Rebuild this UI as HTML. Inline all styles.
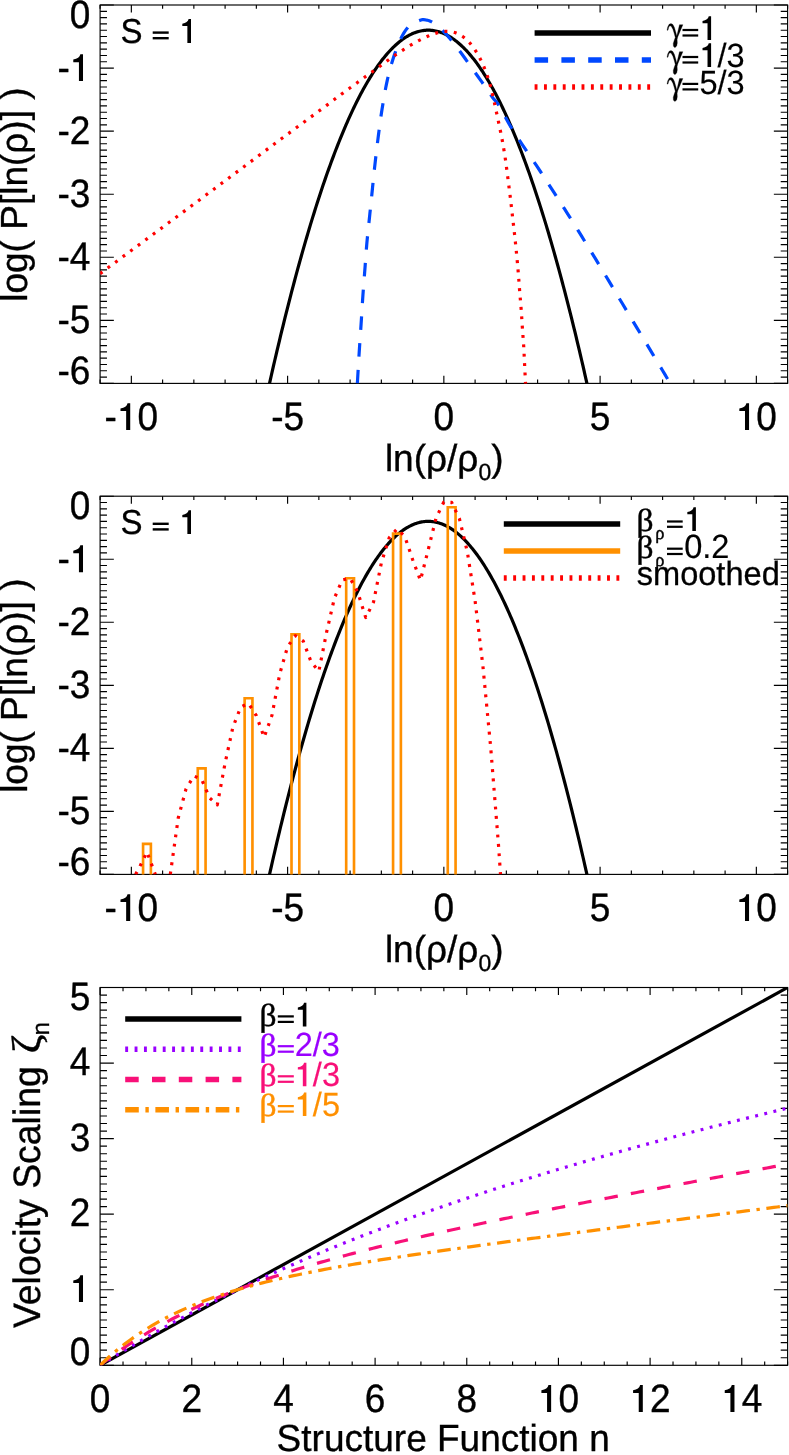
<!DOCTYPE html>
<html><head><meta charset="utf-8"><title>chart</title><style>html,body{margin:0;padding:0;background:#fff}svg{display:block}text{filter:brightness(1)}</style></head><body>
<svg width="789" height="1455" viewBox="0 0 789 1455" font-family="Liberation Sans, sans-serif" text-rendering="geometricPrecision">
<rect width="789" height="1455" fill="#fff"/>
<clipPath id="c1"><rect x="100.1" y="5" width="687.5" height="378.4"/></clipPath>
<path d="M100.1 383.4 v-3.78 M100.1 5 v3.78 M131.35 383.4 v-7.57 M131.35 5 v7.57 M162.6 383.4 v-3.78 M162.6 5 v3.78 M193.85 383.4 v-3.78 M193.85 5 v3.78 M225.1 383.4 v-3.78 M225.1 5 v3.78 M256.35 383.4 v-3.78 M256.35 5 v3.78 M287.6 383.4 v-7.57 M287.6 5 v7.57 M318.85 383.4 v-3.78 M318.85 5 v3.78 M350.1 383.4 v-3.78 M350.1 5 v3.78 M381.35 383.4 v-3.78 M381.35 5 v3.78 M412.6 383.4 v-3.78 M412.6 5 v3.78 M443.85 383.4 v-7.57 M443.85 5 v7.57 M475.1 383.4 v-3.78 M475.1 5 v3.78 M506.35 383.4 v-3.78 M506.35 5 v3.78 M537.6 383.4 v-3.78 M537.6 5 v3.78 M568.85 383.4 v-3.78 M568.85 5 v3.78 M600.1 383.4 v-7.57 M600.1 5 v7.57 M631.35 383.4 v-3.78 M631.35 5 v3.78 M662.6 383.4 v-3.78 M662.6 5 v3.78 M693.85 383.4 v-3.78 M693.85 5 v3.78 M725.1 383.4 v-3.78 M725.1 5 v3.78 M756.35 383.4 v-7.57 M756.35 5 v7.57 M787.6 383.4 v-3.78 M787.6 5 v3.78 M100.1 383.4 h13.75 M787.6 383.4 h-13.75 M100.1 377.09 h6.88 M787.6 377.09 h-6.88 M100.1 370.79 h6.88 M787.6 370.79 h-6.88 M100.1 364.48 h6.88 M787.6 364.48 h-6.88 M100.1 358.17 h6.88 M787.6 358.17 h-6.88 M100.1 351.87 h6.88 M787.6 351.87 h-6.88 M100.1 345.56 h6.88 M787.6 345.56 h-6.88 M100.1 339.25 h6.88 M787.6 339.25 h-6.88 M100.1 332.95 h6.88 M787.6 332.95 h-6.88 M100.1 326.64 h6.88 M787.6 326.64 h-6.88 M100.1 320.33 h13.75 M787.6 320.33 h-13.75 M100.1 314.03 h6.88 M787.6 314.03 h-6.88 M100.1 307.72 h6.88 M787.6 307.72 h-6.88 M100.1 301.41 h6.88 M787.6 301.41 h-6.88 M100.1 295.11 h6.88 M787.6 295.11 h-6.88 M100.1 288.8 h6.88 M787.6 288.8 h-6.88 M100.1 282.49 h6.88 M787.6 282.49 h-6.88 M100.1 276.19 h6.88 M787.6 276.19 h-6.88 M100.1 269.88 h6.88 M787.6 269.88 h-6.88 M100.1 263.57 h6.88 M787.6 263.57 h-6.88 M100.1 257.27 h13.75 M787.6 257.27 h-13.75 M100.1 250.96 h6.88 M787.6 250.96 h-6.88 M100.1 244.65 h6.88 M787.6 244.65 h-6.88 M100.1 238.35 h6.88 M787.6 238.35 h-6.88 M100.1 232.04 h6.88 M787.6 232.04 h-6.88 M100.1 225.73 h6.88 M787.6 225.73 h-6.88 M100.1 219.43 h6.88 M787.6 219.43 h-6.88 M100.1 213.12 h6.88 M787.6 213.12 h-6.88 M100.1 206.81 h6.88 M787.6 206.81 h-6.88 M100.1 200.51 h6.88 M787.6 200.51 h-6.88 M100.1 194.2 h13.75 M787.6 194.2 h-13.75 M100.1 187.89 h6.88 M787.6 187.89 h-6.88 M100.1 181.59 h6.88 M787.6 181.59 h-6.88 M100.1 175.28 h6.88 M787.6 175.28 h-6.88 M100.1 168.97 h6.88 M787.6 168.97 h-6.88 M100.1 162.67 h6.88 M787.6 162.67 h-6.88 M100.1 156.36 h6.88 M787.6 156.36 h-6.88 M100.1 150.05 h6.88 M787.6 150.05 h-6.88 M100.1 143.75 h6.88 M787.6 143.75 h-6.88 M100.1 137.44 h6.88 M787.6 137.44 h-6.88 M100.1 131.13 h13.75 M787.6 131.13 h-13.75 M100.1 124.83 h6.88 M787.6 124.83 h-6.88 M100.1 118.52 h6.88 M787.6 118.52 h-6.88 M100.1 112.21 h6.88 M787.6 112.21 h-6.88 M100.1 105.91 h6.88 M787.6 105.91 h-6.88 M100.1 99.6 h6.88 M787.6 99.6 h-6.88 M100.1 93.29 h6.88 M787.6 93.29 h-6.88 M100.1 86.99 h6.88 M787.6 86.99 h-6.88 M100.1 80.68 h6.88 M787.6 80.68 h-6.88 M100.1 74.37 h6.88 M787.6 74.37 h-6.88 M100.1 68.07 h13.75 M787.6 68.07 h-13.75 M100.1 61.76 h6.88 M787.6 61.76 h-6.88 M100.1 55.45 h6.88 M787.6 55.45 h-6.88 M100.1 49.15 h6.88 M787.6 49.15 h-6.88 M100.1 42.84 h6.88 M787.6 42.84 h-6.88 M100.1 36.53 h6.88 M787.6 36.53 h-6.88 M100.1 30.23 h6.88 M787.6 30.23 h-6.88 M100.1 23.92 h6.88 M787.6 23.92 h-6.88 M100.1 17.61 h6.88 M787.6 17.61 h-6.88 M100.1 11.31 h6.88 M787.6 11.31 h-6.88 M100.1 5 h13.75 M787.6 5 h-13.75" stroke="#000" stroke-width="1.15" fill="none"/>
<rect x="100.1" y="5" width="687.5" height="378.4" stroke="#000" stroke-width="1.15" fill="none"/>
<path d="M256.35 444.44 L257.5 438.91 L258.65 433.43 L259.8 427.98 L260.95 422.56 L262.1 417.19 L263.25 411.85 L264.4 406.55 L265.55 401.29 L266.7 396.06 L267.85 390.87 L269 385.72 L270.15 380.6 L271.3 375.52 L272.45 370.48 L273.59 365.48 L274.74 360.51 L275.89 355.58 L277.04 350.68 L278.19 345.83 L279.34 341.01 L280.49 336.23 L281.64 331.48 L282.79 326.77 L283.94 322.1 L285.09 317.47 L286.24 312.87 L287.39 308.31 L288.54 303.79 L289.69 299.3 L290.84 294.86 L291.99 290.45 L293.14 286.07 L294.29 281.73 L295.44 277.43 L296.59 273.17 L297.74 268.94 L298.89 264.76 L300.04 260.6 L301.19 256.49 L302.34 252.41 L303.49 248.37 L304.64 244.37 L305.79 240.4 L306.94 236.47 L308.08 232.58 L309.23 228.72 L310.38 224.9 L311.53 221.12 L312.68 217.38 L313.83 213.67 L314.98 210 L316.13 206.37 L317.28 202.77 L318.43 199.21 L319.58 195.69 L320.73 192.21 L321.88 188.76 L323.03 185.35 L324.18 181.98 L325.33 178.64 L326.48 175.34 L327.63 172.08 L328.78 168.85 L329.93 165.67 L331.08 162.52 L332.23 159.4 L333.38 156.32 L334.53 153.28 L335.68 150.28 L336.83 147.32 L337.98 144.39 L339.13 141.5 L340.28 138.64 L341.43 135.82 L342.57 133.04 L343.72 130.3 L344.87 127.59 L346.02 124.93 L347.17 122.29 L348.32 119.7 L349.47 117.14 L350.62 114.62 L351.77 112.14 L352.92 109.69 L354.07 107.28 L355.22 104.91 L356.37 102.57 L357.52 100.27 L358.67 98.01 L359.82 95.79 L360.97 93.6 L362.12 91.45 L363.27 89.34 L364.42 87.26 L365.57 85.22 L366.72 83.22 L367.87 81.26 L369.02 79.33 L370.17 77.44 L371.32 75.59 L372.47 73.77 L373.62 71.99 L374.77 70.25 L375.92 68.54 L377.06 66.87 L378.21 65.24 L379.36 63.65 L380.51 62.09 L381.66 60.57 L382.81 59.09 L383.96 57.64 L385.11 56.23 L386.26 54.86 L387.41 53.53 L388.56 52.23 L389.71 50.97 L390.86 49.75 L392.01 48.56 L393.16 47.41 L394.31 46.3 L395.46 45.22 L396.61 44.19 L397.76 43.19 L398.91 42.22 L400.06 41.3 L401.21 40.41 L402.36 39.55 L403.51 38.74 L404.66 37.96 L405.81 37.22 L406.96 36.51 L408.11 35.85 L409.26 35.22 L410.41 34.62 L411.55 34.07 L412.7 33.55 L413.85 33.07 L415 32.62 L416.15 32.21 L417.3 31.84 L418.45 31.51 L419.6 31.21 L420.75 30.95 L421.9 30.73 L423.05 30.54 L424.2 30.4 L425.35 30.29 L426.5 30.21 L427.65 30.17 L428.8 30.17 L429.95 30.21 L431.1 30.29 L432.25 30.4 L433.4 30.54 L434.55 30.73 L435.7 30.95 L436.85 31.21 L438 31.51 L439.15 31.84 L440.3 32.21 L441.45 32.62 L442.6 33.07 L443.75 33.55 L444.9 34.07 L446.04 34.62 L447.19 35.22 L448.34 35.85 L449.49 36.51 L450.64 37.22 L451.79 37.96 L452.94 38.74 L454.09 39.55 L455.24 40.41 L456.39 41.3 L457.54 42.22 L458.69 43.19 L459.84 44.19 L460.99 45.22 L462.14 46.3 L463.29 47.41 L464.44 48.56 L465.59 49.75 L466.74 50.97 L467.89 52.23 L469.04 53.53 L470.19 54.86 L471.34 56.23 L472.49 57.64 L473.64 59.09 L474.79 60.57 L475.94 62.09 L477.09 63.65 L478.24 65.24 L479.39 66.87 L480.53 68.54 L481.68 70.25 L482.83 71.99 L483.98 73.77 L485.13 75.59 L486.28 77.44 L487.43 79.33 L488.58 81.26 L489.73 83.22 L490.88 85.22 L492.03 87.26 L493.18 89.34 L494.33 91.45 L495.48 93.6 L496.63 95.79 L497.78 98.01 L498.93 100.27 L500.08 102.57 L501.23 104.91 L502.38 107.28 L503.53 109.69 L504.68 112.14 L505.83 114.62 L506.98 117.14 L508.13 119.7 L509.28 122.29 L510.43 124.93 L511.58 127.59 L512.73 130.3 L513.88 133.04 L515.02 135.82 L516.17 138.64 L517.32 141.5 L518.47 144.39 L519.62 147.32 L520.77 150.28 L521.92 153.28 L523.07 156.32 L524.22 159.4 L525.37 162.52 L526.52 165.67 L527.67 168.85 L528.82 172.08 L529.97 175.34 L531.12 178.64 L532.27 181.98 L533.42 185.35 L534.57 188.76 L535.72 192.21 L536.87 195.69 L538.02 199.21 L539.17 202.77 L540.32 206.37 L541.47 210 L542.62 213.67 L543.77 217.38 L544.92 221.12 L546.07 224.9 L547.22 228.72 L548.37 232.58 L549.51 236.47 L550.66 240.4 L551.81 244.37 L552.96 248.37 L554.11 252.41 L555.26 256.49 L556.41 260.6 L557.56 264.76 L558.71 268.94 L559.86 273.17 L561.01 277.43 L562.16 281.73 L563.31 286.07 L564.46 290.45 L565.61 294.86 L566.76 299.3 L567.91 303.79 L569.06 308.31 L570.21 312.87 L571.36 317.47 L572.51 322.1 L573.66 326.77 L574.81 331.48 L575.96 336.23 L577.11 341.01 L578.26 345.83 L579.41 350.68 L580.56 355.58 L581.71 360.51 L582.86 365.48 L584 370.48 L585.15 375.52 L586.3 380.6 L587.45 385.72 L588.6 390.87 L589.75 396.06 L590.9 401.29 L592.05 406.55 L593.2 411.85 L594.35 417.19 L595.5 422.56 L596.65 427.98 L597.8 433.43 L598.95 438.91 L600.1 444.44" stroke="#000" stroke-width="3.2" fill="none" stroke-linejoin="round"  clip-path="url(#c1)"/>
<path d="M357.36 383.4 L357.5 380.98 L357.69 377.75 L357.91 373.9 L358.16 369.62 L358.42 365.13 L358.69 360.61 L358.95 356.27 L359.2 352.3 L359.44 348.62 L359.67 345.01 L359.91 341.45 L360.15 337.93 L360.39 334.43 L360.63 330.94 L360.87 327.43 L361.1 323.9 L361.33 320.34 L361.55 316.75 L361.77 313.16 L361.99 309.57 L362.21 306 L362.44 302.46 L362.67 298.95 L362.9 295.5 L363.14 292.1 L363.39 288.76 L363.64 285.45 L363.89 282.18 L364.14 278.91 L364.4 275.65 L364.65 272.39 L364.9 269.1 L365.15 265.8 L365.38 262.5 L365.62 259.2 L365.86 255.89 L366.1 252.59 L366.35 249.29 L366.62 246 L366.9 242.7 L367.21 239.38 L367.54 236.03 L367.88 232.66 L368.23 229.3 L368.59 225.97 L368.94 222.7 L369.28 219.5 L369.6 216.4 L369.9 213.44 L370.2 210.6 L370.48 207.85 L370.76 205.16 L371.03 202.46 L371.31 199.73 L371.6 196.93 L371.9 194 L372.2 190.99 L372.51 187.94 L372.81 184.85 L373.12 181.71 L373.44 178.5 L373.77 175.22 L374.13 171.86 L374.5 168.4 L374.9 164.81 L375.32 161.07 L375.76 157.23 L376.22 153.32 L376.68 149.4 L377.16 145.49 L377.63 141.65 L378.1 137.9 L378.56 134.25 L379.03 130.65 L379.49 127.1 L379.96 123.57 L380.44 120.06 L380.93 116.55 L381.45 113.04 L382 109.5 L382.57 105.91 L383.17 102.26 L383.79 98.58 L384.42 94.92 L385.07 91.3 L385.73 87.77 L386.41 84.36 L387.1 81.1 L387.79 78.01 L388.49 75.05 L389.2 72.2 L389.93 69.44 L390.68 66.75 L391.45 64.09 L392.26 61.45 L393.1 58.8 L393.99 56.11 L394.92 53.39 L395.88 50.68 L396.87 48.01 L397.87 45.42 L398.89 42.95 L399.9 40.63 L400.9 38.5 L401.88 36.55 L402.83 34.76 L403.78 33.1 L404.74 31.56 L405.73 30.14 L406.76 28.81 L407.84 27.57 L409 26.4 L410.28 25.31 L411.7 24.32 L413.21 23.42 L414.74 22.62 L416.25 21.91 L417.68 21.28 L418.98 20.75 L420.1 20.3 L421.01 19.96 L421.75 19.73 L422.36 19.61 L422.9 19.57 L423.4 19.59 L423.93 19.67 L424.51 19.78 L425.2 19.9 L425.96 20.02 L426.74 20.15 L427.54 20.3 L428.38 20.51 L429.26 20.79 L430.2 21.16 L431.21 21.66 L432.3 22.3 L433.52 23.12 L434.86 24.1 L436.3 25.22 L437.78 26.43 L439.27 27.69 L440.74 28.96 L442.12 30.21 L443.4 31.4 L444.55 32.52 L445.61 33.6 L446.6 34.67 L447.56 35.74 L448.51 36.85 L449.48 38.02 L450.5 39.26 L451.6 40.6 L452.77 42.05 L453.99 43.6 L455.25 45.21 L456.53 46.89 L457.83 48.6 L459.13 50.34 L460.42 52.07 L461.7 53.8 L462.96 55.53 L464.22 57.28 L465.48 59.05 L466.74 60.84 L468.01 62.63 L469.27 64.43 L470.53 66.22 L471.8 68 L473.07 69.77 L474.33 71.52 L475.6 73.28 L476.87 75.03 L478.14 76.79 L479.42 78.57 L480.71 80.37 L482 82.2 L483.33 84.11 L484.72 86.11 L486.12 88.16 L487.52 90.21 L488.9 92.22 L490.22 94.13 L491.46 95.91 L492.6 97.5 L493.57 98.77 L494.36 99.71 L495.05 100.45 L495.7 101.12 L496.37 101.87 L497.14 102.83 L498.06 104.13 L499.2 105.9 L500.49 108.08 L501.82 110.5 L503.25 113.18 L504.8 116.11 L506.51 119.29 L508.42 122.73 L510.57 126.43 L513 130.4 L515.77 134.73 L518.89 139.47 L522.28 144.53 L525.85 149.82 L529.53 155.25 L533.23 160.73 L536.88 166.18 L540.4 171.5 L543.83 176.74 L547.25 182.01 L550.68 187.3 L554.11 192.61 L557.53 197.95 L560.96 203.31 L564.38 208.69 L567.8 214.1 L571.22 219.53 L574.63 224.98 L578.04 230.46 L581.45 235.96 L584.86 241.49 L588.27 247.03 L591.68 252.61 L595.1 258.2 L598.52 263.83 L601.94 269.49 L605.37 275.19 L608.79 280.91 L612.22 286.63 L615.65 292.36 L619.07 298.09 L622.5 303.8 L625.99 309.6 L629.57 315.56 L633.18 321.57 L636.78 327.55 L640.3 333.41 L643.7 339.07 L646.92 344.43 L649.9 349.4 L652.71 354.09 L655.42 358.61 L658.01 362.93 L660.45 367 L662.7 370.77 L664.75 374.19 L666.56 377.21 L668.1 379.8 L669.32 381.86 L670.23 383.4 L670.88 384.52 L671.34 385.3 L671.65 385.85 L671.87 386.25 L672.07 386.6 L672.3 387" stroke="#0048ff" stroke-width="3.2" fill="none" stroke-linejoin="round" stroke-dasharray="13.5 13.3" stroke-dashoffset="0" clip-path="url(#c1)"/>
<path d="M100.1 273.6 L191.3 206 L281.3 138.8 L326.6 105.4 L341.5 94.1 L342.09 93.67 L342.89 93.09 L343.83 92.41 L344.88 91.64 L345.98 90.84 L347.1 90.02 L348.19 89.23 L349.2 88.5 L350.16 87.81 L351.11 87.12 L352.06 86.43 L353.01 85.74 L353.96 85.06 L354.91 84.37 L355.86 83.69 L356.8 83 L357.74 82.31 L358.68 81.62 L359.61 80.94 L360.54 80.25 L361.48 79.56 L362.41 78.88 L363.35 78.19 L364.3 77.5 L365.25 76.81 L366.21 76.12 L367.18 75.44 L368.14 74.75 L369.11 74.06 L370.08 73.38 L371.04 72.69 L372 72 L372.96 71.31 L373.91 70.63 L374.86 69.94 L375.81 69.26 L376.76 68.57 L377.71 67.88 L378.66 67.19 L379.6 66.5 L380.54 65.8 L381.48 65.1 L382.41 64.4 L383.34 63.7 L384.28 63 L385.21 62.3 L386.15 61.6 L387.1 60.9 L388.05 60.2 L389.01 59.51 L389.97 58.81 L390.94 58.12 L391.9 57.43 L392.87 56.74 L393.84 56.07 L394.8 55.4 L395.76 54.74 L396.72 54.1 L397.67 53.46 L398.62 52.83 L399.58 52.19 L400.55 51.57 L401.52 50.93 L402.5 50.3 L403.49 49.66 L404.5 49.01 L405.51 48.37 L406.52 47.72 L407.54 47.08 L408.57 46.44 L409.58 45.81 L410.6 45.2 L411.61 44.6 L412.62 44 L413.62 43.42 L414.63 42.84 L415.63 42.27 L416.65 41.7 L417.67 41.15 L418.7 40.6 L419.74 40.06 L420.78 39.52 L421.83 39 L422.89 38.48 L423.95 37.96 L425.02 37.46 L426.11 36.98 L427.2 36.5 L428.31 36.03 L429.43 35.56 L430.56 35.1 L431.71 34.65 L432.85 34.22 L434 33.81 L435.15 33.44 L436.3 33.1 L437.45 32.79 L438.6 32.49 L439.75 32.21 L440.9 31.97 L442.05 31.76 L443.2 31.59 L444.35 31.47 L445.5 31.4 L446.65 31.38 L447.81 31.41 L448.96 31.48 L450.12 31.59 L451.27 31.75 L452.4 31.96 L453.51 32.2 L454.6 32.5 L455.67 32.84 L456.72 33.24 L457.75 33.68 L458.78 34.16 L459.78 34.69 L460.77 35.26 L461.74 35.86 L462.7 36.5 L463.64 37.18 L464.58 37.92 L465.5 38.7 L466.4 39.52 L467.28 40.36 L468.15 41.23 L468.99 42.11 L469.8 43 L470.58 43.9 L471.34 44.82 L472.08 45.76 L472.79 46.73 L473.48 47.7 L474.16 48.69 L474.84 49.69 L475.5 50.7 L476.16 51.72 L476.8 52.76 L477.44 53.82 L478.06 54.88 L478.66 55.96 L479.26 57.04 L479.84 58.12 L480.4 59.2 L480.95 60.28 L481.48 61.37 L482 62.46 L482.5 63.56 L482.99 64.66 L483.47 65.77 L483.94 66.88 L484.4 68 L484.85 69.12 L485.29 70.25 L485.71 71.39 L486.12 72.53 L486.53 73.67 L486.93 74.82 L487.32 75.96 L487.7 77.1 L488.08 78.24 L488.45 79.38 L488.81 80.51 L489.17 81.65 L489.52 82.79 L489.85 83.92 L490.18 85.06 L490.5 86.2 L490.8 87.34 L491.09 88.47 L491.37 89.6 L491.64 90.74 L491.91 91.87 L492.17 93.01 L492.43 94.15 L492.7 95.3 L492.95 96.39 L493.19 97.4 L493.42 98.38 L493.64 99.38 L493.89 100.45 L494.15 101.64 L494.45 103.01 L494.8 104.6 L495.2 106.45 L495.65 108.52 L496.14 110.77 L496.65 113.14 L497.17 115.58 L497.7 118.03 L498.21 120.46 L498.7 122.8 L499.18 125.08 L499.66 127.37 L500.13 129.66 L500.61 131.95 L501.07 134.24 L501.53 136.53 L501.97 138.82 L502.4 141.1 L502.81 143.38 L503.21 145.65 L503.6 147.93 L503.98 150.2 L504.35 152.47 L504.71 154.75 L505.06 157.02 L505.4 159.3 L505.73 161.57 L506.04 163.84 L506.34 166.09 L506.63 168.36 L506.92 170.63 L507.21 172.92 L507.5 175.24 L507.8 177.6 L508.11 180.01 L508.43 182.46 L508.75 184.95 L509.07 187.45 L509.39 189.95 L509.7 192.44 L510.01 194.89 L510.3 197.3 L510.58 199.66 L510.85 201.98 L511.12 204.27 L511.38 206.54 L511.63 208.81 L511.88 211.06 L512.14 213.33 L512.4 215.6 L512.66 217.88 L512.93 220.15 L513.2 222.43 L513.46 224.7 L513.73 226.97 L513.99 229.25 L514.25 231.52 L514.5 233.8 L514.75 236.07 L514.99 238.33 L515.23 240.59 L515.47 242.85 L515.7 245.12 L515.94 247.42 L516.17 249.74 L516.4 252.1 L516.63 254.5 L516.86 256.95 L517.1 259.42 L517.33 261.91 L517.55 264.42 L517.77 266.92 L517.99 269.42 L518.2 271.9 L518.4 274.38 L518.6 276.86 L518.78 279.36 L518.97 281.84 L519.15 284.32 L519.33 286.78 L519.51 289.21 L519.7 291.6 L519.89 293.96 L520.08 296.28 L520.28 298.57 L520.47 300.84 L520.66 303.11 L520.85 305.36 L521.03 307.63 L521.2 309.9 L521.36 312.18 L521.52 314.45 L521.67 316.73 L521.81 319 L521.96 321.27 L522.1 323.55 L522.25 325.82 L522.4 328.1 L522.56 330.38 L522.73 332.67 L522.9 334.96 L523.07 337.25 L523.24 339.54 L523.4 341.83 L523.56 344.12 L523.7 346.4 L523.83 348.68 L523.95 350.95 L524.07 353.23 L524.17 355.5 L524.28 357.77 L524.38 360.05 L524.49 362.32 L524.6 364.6 L524.72 366.96 L524.84 369.43 L524.96 371.95 L525.09 374.44 L525.21 376.85 L525.32 379.11 L525.42 381.15 L525.5 382.9 L525.57 384.37 L525.62 385.63 L525.67 386.69 L525.71 387.59 L525.74 388.35 L525.76 388.99 L525.78 389.53 L525.8 390" stroke="#ff0000" stroke-width="3.2" fill="none" stroke-linejoin="round" stroke-dasharray="2.9 6.485" stroke-dashoffset="0" clip-path="url(#c1)"/>
<text transform="translate(104.62 430) scale(1 1.07)" font-size="37" fill="#000" stroke="#000" stroke-width="0.35" style="white-space:pre">-</text>
<path transform="translate(116.94 430)" d="M13.28 0 L13.28 -26.86 L10.62 -26.86 Q9.69 -22.57 3.55 -21.53 L3.55 -18.94 L9.21 -18.94 L9.21 0Z" fill="#000"/>
<text transform="translate(137.51 430) scale(1 1.07)" font-size="37" fill="#000" stroke="#000" stroke-width="0.35" style="white-space:pre">0</text>
<text transform="translate(271.15 430) scale(1 1.07)" font-size="37" fill="#000" stroke="#000" stroke-width="0.35" style="white-space:pre">-5</text>
<text transform="translate(433.56 430) scale(1 1.07)" font-size="37" fill="#000" stroke="#000" stroke-width="0.35" style="white-space:pre">0</text>
<text transform="translate(589.81 430) scale(1 1.07)" font-size="37" fill="#000" stroke="#000" stroke-width="0.35" style="white-space:pre">5</text>
<path transform="translate(735.78 430)" d="M13.28 0 L13.28 -26.86 L10.62 -26.86 Q9.69 -22.57 3.55 -21.53 L3.55 -18.94 L9.21 -18.94 L9.21 0Z" fill="#000"/>
<text transform="translate(756.35 430) scale(1 1.07)" font-size="37" fill="#000" stroke="#000" stroke-width="0.35" style="white-space:pre">0</text>
<text transform="translate(57.41 384.1) scale(1 1.07)" font-size="37" fill="#000" stroke="#000" stroke-width="0.35" style="white-space:pre">-6</text>
<text transform="translate(57.41 333.33) scale(1 1.07)" font-size="37" fill="#000" stroke="#000" stroke-width="0.35" style="white-space:pre">-5</text>
<text transform="translate(57.41 270.27) scale(1 1.07)" font-size="37" fill="#000" stroke="#000" stroke-width="0.35" style="white-space:pre">-4</text>
<text transform="translate(57.41 207.2) scale(1 1.07)" font-size="37" fill="#000" stroke="#000" stroke-width="0.35" style="white-space:pre">-3</text>
<text transform="translate(57.41 144.13) scale(1 1.07)" font-size="37" fill="#000" stroke="#000" stroke-width="0.35" style="white-space:pre">-2</text>
<text transform="translate(57.41 81.07) scale(1 1.07)" font-size="37" fill="#000" stroke="#000" stroke-width="0.35" style="white-space:pre">-</text>
<path transform="translate(69.73 81.07)" d="M13.28 0 L13.28 -26.86 L10.62 -26.86 Q9.69 -22.57 3.55 -21.53 L3.55 -18.94 L9.21 -18.94 L9.21 0Z" fill="#000"/>
<text transform="translate(69.73 27.5) scale(1 1.07)" font-size="37" fill="#000" stroke="#000" stroke-width="0.35" style="white-space:pre">0</text>
<text transform="translate(444.2 471) scale(1 1.02)" font-size="37" text-anchor="middle" fill="#000" stroke="#000" stroke-width="0.35" >ln(ρ/ρ<tspan font-size="23" dy="8.5">0</tspan><tspan dy="-8.5">)</tspan></text>
<text transform="translate(27.3 194.6) rotate(-90) scale(1 1.02)" font-size="37" text-anchor="middle" stroke="#000" stroke-width="0.35">log( P[ln(ρ)] )</text>
<text transform="translate(120.4 43) scale(1 1.05)" font-size="33" stroke="#000" stroke-width="0.3">S</text>
<rect x="152.7" y="31.4" width="16" height="2.4"/>
<rect x="152.7" y="37" width="16" height="2.4"/>
<path transform="translate(179.15 42.9)" d="M11.85 0 L11.85 -23.96 L9.47 -23.96 Q8.65 -20.13 3.17 -19.21 L3.17 -16.9 L8.22 -16.9 L8.22 0Z" fill="#000"/>
<path d="M534.6 33.05 H651" stroke="#000" stroke-width="5.5" />
<polygon transform="translate(667 40)" points="0.07,-9.81 0.68,-13.01 2.10,-15.69 4.02,-16.40 5.90,-15.39 7.42,-12.50 8.79,-7.68 9.80,-3.88 12.49,-15.29 15.89,-15.29 10.72,-3.12 10.11,-0.59 10.31,2.96 9.70,6.00 7.93,7.63 6.41,6.26 6.25,3.47 7.42,-0.33 8.28,-2.61 7.17,-6.67 5.90,-10.73 4.38,-13.51 3.11,-14.27 1.84,-13.26 0.98,-9.81" fill="#000" stroke="#000" stroke-width="0.3" stroke-linejoin="round"/>
<rect x="682.5" y="28.9" width="15.7" height="2.2" fill="#000"/>
<rect x="682.5" y="34.4" width="15.7" height="2.2" fill="#000"/>
<path transform="translate(699.4 40)" d="M11.7 0 L11.7 -23.67 L9.36 -23.67 Q8.54 -19.89 3.13 -18.97 L3.13 -16.69 L8.12 -16.69 L8.12 0Z" fill="#000"/>
<path d="M534.6 60 H651" stroke="#0048ff" stroke-width="5.5" stroke-dasharray="13.5 13.3"/>
<polygon transform="translate(667 67)" points="0.07,-9.81 0.68,-13.01 2.10,-15.69 4.02,-16.40 5.90,-15.39 7.42,-12.50 8.79,-7.68 9.80,-3.88 12.49,-15.29 15.89,-15.29 10.72,-3.12 10.11,-0.59 10.31,2.96 9.70,6.00 7.93,7.63 6.41,6.26 6.25,3.47 7.42,-0.33 8.28,-2.61 7.17,-6.67 5.90,-10.73 4.38,-13.51 3.11,-14.27 1.84,-13.26 0.98,-9.81" fill="#000" stroke="#000" stroke-width="0.3" stroke-linejoin="round"/>
<rect x="682.5" y="55.9" width="15.7" height="2.2" fill="#000"/>
<rect x="682.5" y="61.4" width="15.7" height="2.2" fill="#000"/>
<path transform="translate(699.4 67)" d="M11.7 0 L11.7 -23.67 L9.36 -23.67 Q8.54 -19.89 3.13 -18.97 L3.13 -16.69 L8.12 -16.69 L8.12 0Z" fill="#000"/>
<text transform="translate(717.53 67) scale(1 1.03)" font-size="32.6" fill="#000" stroke="#000" stroke-width="0.15" style="white-space:pre">/3</text>
<path d="M534.6 87 H651" stroke="#ff0000" stroke-width="5.5" stroke-dasharray="2.9 6.485"/>
<polygon transform="translate(667 93.9)" points="0.07,-9.81 0.68,-13.01 2.10,-15.69 4.02,-16.40 5.90,-15.39 7.42,-12.50 8.79,-7.68 9.80,-3.88 12.49,-15.29 15.89,-15.29 10.72,-3.12 10.11,-0.59 10.31,2.96 9.70,6.00 7.93,7.63 6.41,6.26 6.25,3.47 7.42,-0.33 8.28,-2.61 7.17,-6.67 5.90,-10.73 4.38,-13.51 3.11,-14.27 1.84,-13.26 0.98,-9.81" fill="#000" stroke="#000" stroke-width="0.3" stroke-linejoin="round"/>
<rect x="682.5" y="82.8" width="15.7" height="2.2" fill="#000"/>
<rect x="682.5" y="88.3" width="15.7" height="2.2" fill="#000"/>
<text transform="translate(699.4 93.9) scale(1 1.03)" font-size="32.6" fill="#000" stroke="#000" stroke-width="0.15" style="white-space:pre">5/3</text>
<clipPath id="c2"><rect x="100.1" y="496.2" width="687.5" height="378.2"/></clipPath>
<path d="M100.1 874.4 v-3.78 M100.1 496.2 v3.78 M131.35 874.4 v-7.56 M131.35 496.2 v7.56 M162.6 874.4 v-3.78 M162.6 496.2 v3.78 M193.85 874.4 v-3.78 M193.85 496.2 v3.78 M225.1 874.4 v-3.78 M225.1 496.2 v3.78 M256.35 874.4 v-3.78 M256.35 496.2 v3.78 M287.6 874.4 v-7.56 M287.6 496.2 v7.56 M318.85 874.4 v-3.78 M318.85 496.2 v3.78 M350.1 874.4 v-3.78 M350.1 496.2 v3.78 M381.35 874.4 v-3.78 M381.35 496.2 v3.78 M412.6 874.4 v-3.78 M412.6 496.2 v3.78 M443.85 874.4 v-7.56 M443.85 496.2 v7.56 M475.1 874.4 v-3.78 M475.1 496.2 v3.78 M506.35 874.4 v-3.78 M506.35 496.2 v3.78 M537.6 874.4 v-3.78 M537.6 496.2 v3.78 M568.85 874.4 v-3.78 M568.85 496.2 v3.78 M600.1 874.4 v-7.56 M600.1 496.2 v7.56 M631.35 874.4 v-3.78 M631.35 496.2 v3.78 M662.6 874.4 v-3.78 M662.6 496.2 v3.78 M693.85 874.4 v-3.78 M693.85 496.2 v3.78 M725.1 874.4 v-3.78 M725.1 496.2 v3.78 M756.35 874.4 v-7.56 M756.35 496.2 v7.56 M787.6 874.4 v-3.78 M787.6 496.2 v3.78 M100.1 874.4 h13.75 M787.6 874.4 h-13.75 M100.1 868.1 h6.88 M787.6 868.1 h-6.88 M100.1 861.79 h6.88 M787.6 861.79 h-6.88 M100.1 855.49 h6.88 M787.6 855.49 h-6.88 M100.1 849.19 h6.88 M787.6 849.19 h-6.88 M100.1 842.88 h6.88 M787.6 842.88 h-6.88 M100.1 836.58 h6.88 M787.6 836.58 h-6.88 M100.1 830.28 h6.88 M787.6 830.28 h-6.88 M100.1 823.97 h6.88 M787.6 823.97 h-6.88 M100.1 817.67 h6.88 M787.6 817.67 h-6.88 M100.1 811.37 h13.75 M787.6 811.37 h-13.75 M100.1 805.06 h6.88 M787.6 805.06 h-6.88 M100.1 798.76 h6.88 M787.6 798.76 h-6.88 M100.1 792.46 h6.88 M787.6 792.46 h-6.88 M100.1 786.15 h6.88 M787.6 786.15 h-6.88 M100.1 779.85 h6.88 M787.6 779.85 h-6.88 M100.1 773.55 h6.88 M787.6 773.55 h-6.88 M100.1 767.24 h6.88 M787.6 767.24 h-6.88 M100.1 760.94 h6.88 M787.6 760.94 h-6.88 M100.1 754.64 h6.88 M787.6 754.64 h-6.88 M100.1 748.33 h13.75 M787.6 748.33 h-13.75 M100.1 742.03 h6.88 M787.6 742.03 h-6.88 M100.1 735.73 h6.88 M787.6 735.73 h-6.88 M100.1 729.42 h6.88 M787.6 729.42 h-6.88 M100.1 723.12 h6.88 M787.6 723.12 h-6.88 M100.1 716.82 h6.88 M787.6 716.82 h-6.88 M100.1 710.51 h6.88 M787.6 710.51 h-6.88 M100.1 704.21 h6.88 M787.6 704.21 h-6.88 M100.1 697.91 h6.88 M787.6 697.91 h-6.88 M100.1 691.6 h6.88 M787.6 691.6 h-6.88 M100.1 685.3 h13.75 M787.6 685.3 h-13.75 M100.1 679 h6.88 M787.6 679 h-6.88 M100.1 672.69 h6.88 M787.6 672.69 h-6.88 M100.1 666.39 h6.88 M787.6 666.39 h-6.88 M100.1 660.09 h6.88 M787.6 660.09 h-6.88 M100.1 653.78 h6.88 M787.6 653.78 h-6.88 M100.1 647.48 h6.88 M787.6 647.48 h-6.88 M100.1 641.18 h6.88 M787.6 641.18 h-6.88 M100.1 634.87 h6.88 M787.6 634.87 h-6.88 M100.1 628.57 h6.88 M787.6 628.57 h-6.88 M100.1 622.27 h13.75 M787.6 622.27 h-13.75 M100.1 615.96 h6.88 M787.6 615.96 h-6.88 M100.1 609.66 h6.88 M787.6 609.66 h-6.88 M100.1 603.36 h6.88 M787.6 603.36 h-6.88 M100.1 597.05 h6.88 M787.6 597.05 h-6.88 M100.1 590.75 h6.88 M787.6 590.75 h-6.88 M100.1 584.45 h6.88 M787.6 584.45 h-6.88 M100.1 578.14 h6.88 M787.6 578.14 h-6.88 M100.1 571.84 h6.88 M787.6 571.84 h-6.88 M100.1 565.54 h6.88 M787.6 565.54 h-6.88 M100.1 559.23 h13.75 M787.6 559.23 h-13.75 M100.1 552.93 h6.88 M787.6 552.93 h-6.88 M100.1 546.63 h6.88 M787.6 546.63 h-6.88 M100.1 540.32 h6.88 M787.6 540.32 h-6.88 M100.1 534.02 h6.88 M787.6 534.02 h-6.88 M100.1 527.72 h6.88 M787.6 527.72 h-6.88 M100.1 521.41 h6.88 M787.6 521.41 h-6.88 M100.1 515.11 h6.88 M787.6 515.11 h-6.88 M100.1 508.81 h6.88 M787.6 508.81 h-6.88 M100.1 502.5 h6.88 M787.6 502.5 h-6.88 M100.1 496.2 h13.75 M787.6 496.2 h-13.75" stroke="#000" stroke-width="1.15" fill="none"/>
<rect x="100.1" y="496.2" width="687.5" height="378.2" stroke="#000" stroke-width="1.15" fill="none"/>
<path d="M256.35 935.4 L257.5 929.88 L258.65 924.4 L259.8 918.95 L260.95 913.54 L262.1 908.17 L263.25 902.84 L264.4 897.54 L265.55 892.28 L266.7 887.05 L267.85 881.86 L269 876.71 L270.15 871.6 L271.3 866.53 L272.45 861.49 L273.59 856.49 L274.74 851.52 L275.89 846.59 L277.04 841.7 L278.19 836.85 L279.34 832.03 L280.49 827.25 L281.64 822.51 L282.79 817.8 L283.94 813.14 L285.09 808.5 L286.24 803.91 L287.39 799.35 L288.54 794.83 L289.69 790.35 L290.84 785.9 L291.99 781.49 L293.14 777.12 L294.29 772.79 L295.44 768.49 L296.59 764.23 L297.74 760 L298.89 755.82 L300.04 751.67 L301.19 747.56 L302.34 743.48 L303.49 739.44 L304.64 735.44 L305.79 731.48 L306.94 727.55 L308.08 723.66 L309.23 719.8 L310.38 715.99 L311.53 712.21 L312.68 708.47 L313.83 704.76 L314.98 701.09 L316.13 697.46 L317.28 693.87 L318.43 690.31 L319.58 686.79 L320.73 683.31 L321.88 679.86 L323.03 676.46 L324.18 673.08 L325.33 669.75 L326.48 666.45 L327.63 663.19 L328.78 659.97 L329.93 656.78 L331.08 653.63 L332.23 650.52 L333.38 647.44 L334.53 644.41 L335.68 641.41 L336.83 638.44 L337.98 635.51 L339.13 632.62 L340.28 629.77 L341.43 626.96 L342.57 624.18 L343.72 621.43 L344.87 618.73 L346.02 616.06 L347.17 613.43 L348.32 610.84 L349.47 608.28 L350.62 605.76 L351.77 603.28 L352.92 600.83 L354.07 598.43 L355.22 596.06 L356.37 593.72 L357.52 591.42 L358.67 589.16 L359.82 586.94 L360.97 584.75 L362.12 582.61 L363.27 580.49 L364.42 578.42 L365.57 576.38 L366.72 574.38 L367.87 572.42 L369.02 570.49 L370.17 568.6 L371.32 566.75 L372.47 564.93 L373.62 563.15 L374.77 561.41 L375.92 559.71 L377.06 558.04 L378.21 556.41 L379.36 554.82 L380.51 553.26 L381.66 551.74 L382.81 550.26 L383.96 548.82 L385.11 547.41 L386.26 546.04 L387.41 544.7 L388.56 543.41 L389.71 542.15 L390.86 540.92 L392.01 539.74 L393.16 538.59 L394.31 537.48 L395.46 536.4 L396.61 535.37 L397.76 534.37 L398.91 533.4 L400.06 532.48 L401.21 531.59 L402.36 530.73 L403.51 529.92 L404.66 529.14 L405.81 528.4 L406.96 527.7 L408.11 527.03 L409.26 526.4 L410.41 525.81 L411.55 525.25 L412.7 524.73 L413.85 524.25 L415 523.81 L416.15 523.4 L417.3 523.03 L418.45 522.69 L419.6 522.4 L420.75 522.14 L421.9 521.92 L423.05 521.73 L424.2 521.58 L425.35 521.47 L426.5 521.4 L427.65 521.36 L428.8 521.36 L429.95 521.4 L431.1 521.47 L432.25 521.58 L433.4 521.73 L434.55 521.92 L435.7 522.14 L436.85 522.4 L438 522.69 L439.15 523.03 L440.3 523.4 L441.45 523.81 L442.6 524.25 L443.75 524.73 L444.9 525.25 L446.04 525.81 L447.19 526.4 L448.34 527.03 L449.49 527.7 L450.64 528.4 L451.79 529.14 L452.94 529.92 L454.09 530.73 L455.24 531.59 L456.39 532.48 L457.54 533.4 L458.69 534.37 L459.84 535.37 L460.99 536.4 L462.14 537.48 L463.29 538.59 L464.44 539.74 L465.59 540.92 L466.74 542.15 L467.89 543.41 L469.04 544.7 L470.19 546.04 L471.34 547.41 L472.49 548.82 L473.64 550.26 L474.79 551.74 L475.94 553.26 L477.09 554.82 L478.24 556.41 L479.39 558.04 L480.53 559.71 L481.68 561.41 L482.83 563.15 L483.98 564.93 L485.13 566.75 L486.28 568.6 L487.43 570.49 L488.58 572.42 L489.73 574.38 L490.88 576.38 L492.03 578.42 L493.18 580.49 L494.33 582.61 L495.48 584.75 L496.63 586.94 L497.78 589.16 L498.93 591.42 L500.08 593.72 L501.23 596.06 L502.38 598.43 L503.53 600.83 L504.68 603.28 L505.83 605.76 L506.98 608.28 L508.13 610.84 L509.28 613.43 L510.43 616.06 L511.58 618.73 L512.73 621.43 L513.88 624.18 L515.02 626.96 L516.17 629.77 L517.32 632.62 L518.47 635.51 L519.62 638.44 L520.77 641.41 L521.92 644.41 L523.07 647.44 L524.22 650.52 L525.37 653.63 L526.52 656.78 L527.67 659.97 L528.82 663.19 L529.97 666.45 L531.12 669.75 L532.27 673.08 L533.42 676.46 L534.57 679.86 L535.72 683.31 L536.87 686.79 L538.02 690.31 L539.17 693.87 L540.32 697.46 L541.47 701.09 L542.62 704.76 L543.77 708.47 L544.92 712.21 L546.07 715.99 L547.22 719.8 L548.37 723.66 L549.51 727.55 L550.66 731.48 L551.81 735.44 L552.96 739.44 L554.11 743.48 L555.26 747.56 L556.41 751.67 L557.56 755.82 L558.71 760 L559.86 764.23 L561.01 768.49 L562.16 772.79 L563.31 777.12 L564.46 781.49 L565.61 785.9 L566.76 790.35 L567.91 794.83 L569.06 799.35 L570.21 803.91 L571.36 808.5 L572.51 813.14 L573.66 817.8 L574.81 822.51 L575.96 827.25 L577.11 832.03 L578.26 836.85 L579.41 841.7 L580.56 846.59 L581.71 851.52 L582.86 856.49 L584 861.49 L585.15 866.53 L586.3 871.6 L587.45 876.71 L588.6 881.86 L589.75 887.05 L590.9 892.28 L592.05 897.54 L593.2 902.84 L594.35 908.17 L595.5 913.54 L596.65 918.95 L597.8 924.4 L598.95 929.88 L600.1 935.4" stroke="#000" stroke-width="3.2" fill="none" stroke-linejoin="round"  clip-path="url(#c2)"/>
<path d="M447.76 877.4 V507.23 H455.57 V877.4" stroke="#ff9000" stroke-width="2.65" fill="none" clip-path="url(#c2)"/>
<path d="M393.07 877.4 V533.58 H400.88 V877.4" stroke="#ff9000" stroke-width="2.65" fill="none" clip-path="url(#c2)"/>
<path d="M346.19 877.4 V578.21 H354.01 V877.4" stroke="#ff9000" stroke-width="2.65" fill="none" clip-path="url(#c2)"/>
<path d="M291.51 877.4 V634.24 H299.32 V877.4" stroke="#ff9000" stroke-width="2.65" fill="none" clip-path="url(#c2)"/>
<path d="M244.63 877.4 V698.28 H252.44 V877.4" stroke="#ff9000" stroke-width="2.65" fill="none" clip-path="url(#c2)"/>
<path d="M197.76 877.4 V768.38 H205.57 V877.4" stroke="#ff9000" stroke-width="2.65" fill="none" clip-path="url(#c2)"/>
<path d="M143.07 877.4 V843.89 H150.88 V877.4" stroke="#ff9000" stroke-width="2.65" fill="none" clip-path="url(#c2)"/>
<path d="M135.59 874.4 L139.16 867.9 L146.97 852 L154.79 873 L155.32 874.4" stroke="#ff0000" stroke-width="3.2" fill="none" stroke-linejoin="round" stroke-dasharray="2.9 6.485" stroke-dashoffset="0" clip-path="url(#c2)"/>
<path d="M170.1 874.4 L170.41 873.6 L178.22 818.03 L186.04 788.9 L193.85 776 L201.66 779.34 L209.47 797.82 L217.29 804.83 L225.1 763.11 L232.91 727.12 L240.72 707.11 L248.54 703.34 L256.35 715.67 L264.16 737.26 L271.98 715.31 L279.79 673.74 L287.6 646.64 L295.41 635.76 L303.23 641.12 L311.04 661.67 L318.85 671.3 L326.66 631.92 L334.47 597.96 L342.29 579.97 L350.1 578.23 L357.91 592.62 L365.73 617.54 L373.54 602.02 L381.35 562.92 L389.16 537.86 L396.98 529 L404.79 536.4 L412.6 559.46 L420.41 580.41 L428.23 549.71 L436.04 518.03 L443.85 502.07 L451.66 502.36 L459.48 518.91 L467.29 551.72 L475.1 600.8 L482.91 666.13 L490.73 747.73 L498.54 845.59 L500.51 874.4" stroke="#ff0000" stroke-width="3.2" fill="none" stroke-linejoin="round" stroke-dasharray="2.9 6.485" stroke-dashoffset="0" clip-path="url(#c2)"/>
<text transform="translate(104.62 921) scale(1 1.07)" font-size="37" fill="#000" stroke="#000" stroke-width="0.35" style="white-space:pre">-</text>
<path transform="translate(116.94 921)" d="M13.28 0 L13.28 -26.86 L10.62 -26.86 Q9.69 -22.57 3.55 -21.53 L3.55 -18.94 L9.21 -18.94 L9.21 0Z" fill="#000"/>
<text transform="translate(137.51 921) scale(1 1.07)" font-size="37" fill="#000" stroke="#000" stroke-width="0.35" style="white-space:pre">0</text>
<text transform="translate(271.15 921) scale(1 1.07)" font-size="37" fill="#000" stroke="#000" stroke-width="0.35" style="white-space:pre">-5</text>
<text transform="translate(433.56 921) scale(1 1.07)" font-size="37" fill="#000" stroke="#000" stroke-width="0.35" style="white-space:pre">0</text>
<text transform="translate(589.81 921) scale(1 1.07)" font-size="37" fill="#000" stroke="#000" stroke-width="0.35" style="white-space:pre">5</text>
<path transform="translate(735.78 921)" d="M13.28 0 L13.28 -26.86 L10.62 -26.86 Q9.69 -22.57 3.55 -21.53 L3.55 -18.94 L9.21 -18.94 L9.21 0Z" fill="#000"/>
<text transform="translate(756.35 921) scale(1 1.07)" font-size="37" fill="#000" stroke="#000" stroke-width="0.35" style="white-space:pre">0</text>
<text transform="translate(57.41 875.1) scale(1 1.07)" font-size="37" fill="#000" stroke="#000" stroke-width="0.35" style="white-space:pre">-6</text>
<text transform="translate(57.41 824.37) scale(1 1.07)" font-size="37" fill="#000" stroke="#000" stroke-width="0.35" style="white-space:pre">-5</text>
<text transform="translate(57.41 761.33) scale(1 1.07)" font-size="37" fill="#000" stroke="#000" stroke-width="0.35" style="white-space:pre">-4</text>
<text transform="translate(57.41 698.3) scale(1 1.07)" font-size="37" fill="#000" stroke="#000" stroke-width="0.35" style="white-space:pre">-3</text>
<text transform="translate(57.41 635.27) scale(1 1.07)" font-size="37" fill="#000" stroke="#000" stroke-width="0.35" style="white-space:pre">-2</text>
<text transform="translate(57.41 572.23) scale(1 1.07)" font-size="37" fill="#000" stroke="#000" stroke-width="0.35" style="white-space:pre">-</text>
<path transform="translate(69.73 572.23)" d="M13.28 0 L13.28 -26.86 L10.62 -26.86 Q9.69 -22.57 3.55 -21.53 L3.55 -18.94 L9.21 -18.94 L9.21 0Z" fill="#000"/>
<text transform="translate(69.73 518.7) scale(1 1.07)" font-size="37" fill="#000" stroke="#000" stroke-width="0.35" style="white-space:pre">0</text>
<text transform="translate(444.2 962) scale(1 1.02)" font-size="37" text-anchor="middle" fill="#000" stroke="#000" stroke-width="0.35" >ln(ρ/ρ<tspan font-size="23" dy="8.5">0</tspan><tspan dy="-8.5">)</tspan></text>
<text transform="translate(27.3 685.7) rotate(-90) scale(1 1.02)" font-size="37" text-anchor="middle" stroke="#000" stroke-width="0.35">log( P[ln(ρ)] )</text>
<text transform="translate(120.4 534.2) scale(1 1.05)" font-size="33" stroke="#000" stroke-width="0.3">S</text>
<rect x="152.7" y="522.6" width="16" height="2.4"/>
<rect x="152.7" y="528.2" width="16" height="2.4"/>
<path transform="translate(179.15 534.1)" d="M11.85 0 L11.85 -23.96 L9.47 -23.96 Q8.65 -20.13 3.17 -19.21 L3.17 -16.9 L8.22 -16.9 L8.22 0Z" fill="#000"/>
<path d="M503.8 524.05 H620.2" stroke="#000" stroke-width="5.5" />
<text transform="translate(636.6 531) scale(1 0.95)" font-size="33.5" fill="#000" font-family="Liberation Serif, serif" stroke="#000" stroke-width="0.45">β</text>
<text transform="translate(655.2 538.6) scale(1 1.03)" font-size="18.5" fill="#000" font-family="Liberation Serif, serif" stroke="#000" stroke-width="0.4">ρ</text>
<rect x="667" y="520.4" width="15.7" height="2.2" fill="#000"/>
<rect x="667" y="525.7" width="15.7" height="2.2" fill="#000"/>
<path transform="translate(684.2 531)" d="M11.7 0 L11.7 -23.67 L9.36 -23.67 Q8.54 -19.89 3.13 -18.97 L3.13 -16.69 L8.12 -16.69 L8.12 0Z" fill="#000"/>
<path d="M503.8 551 H620.2" stroke="#ff9000" stroke-width="5.5" />
<text transform="translate(636.6 558.2) scale(1 0.95)" font-size="33.5" fill="#000" font-family="Liberation Serif, serif" stroke="#000" stroke-width="0.45">β</text>
<text transform="translate(655.2 565.8) scale(1 1.03)" font-size="18.5" fill="#000" font-family="Liberation Serif, serif" stroke="#000" stroke-width="0.4">ρ</text>
<rect x="667" y="547.6" width="15.7" height="2.2" fill="#000"/>
<rect x="667" y="552.9" width="15.7" height="2.2" fill="#000"/>
<text transform="translate(684.2 558.2) scale(1 1.03)" font-size="32.6" fill="#000" stroke="#000" stroke-width="0.15" style="white-space:pre">0.2</text>
<path d="M503.8 577.9 H620.2" stroke="#ff0000" stroke-width="5.5" stroke-dasharray="2.9 6.485"/>
<text transform="translate(636.7 585.1) scale(1 1.03)" font-size="32.6" fill="#000" stroke="#000" stroke-width="0.3">smoothed</text>
<clipPath id="c3"><rect x="100.1" y="987.5" width="687.5" height="377.8"/></clipPath>
<path d="M100.1 1365.3 v-7.56 M100.1 987.5 v7.56 M123.02 1365.3 v-3.78 M123.02 987.5 v3.78 M145.93 1365.3 v-3.78 M145.93 987.5 v3.78 M168.85 1365.3 v-3.78 M168.85 987.5 v3.78 M191.77 1365.3 v-7.56 M191.77 987.5 v7.56 M214.68 1365.3 v-3.78 M214.68 987.5 v3.78 M237.6 1365.3 v-3.78 M237.6 987.5 v3.78 M260.52 1365.3 v-3.78 M260.52 987.5 v3.78 M283.43 1365.3 v-7.56 M283.43 987.5 v7.56 M306.35 1365.3 v-3.78 M306.35 987.5 v3.78 M329.27 1365.3 v-3.78 M329.27 987.5 v3.78 M352.18 1365.3 v-3.78 M352.18 987.5 v3.78 M375.1 1365.3 v-7.56 M375.1 987.5 v7.56 M398.02 1365.3 v-3.78 M398.02 987.5 v3.78 M420.93 1365.3 v-3.78 M420.93 987.5 v3.78 M443.85 1365.3 v-3.78 M443.85 987.5 v3.78 M466.77 1365.3 v-7.56 M466.77 987.5 v7.56 M489.68 1365.3 v-3.78 M489.68 987.5 v3.78 M512.6 1365.3 v-3.78 M512.6 987.5 v3.78 M535.52 1365.3 v-3.78 M535.52 987.5 v3.78 M558.43 1365.3 v-7.56 M558.43 987.5 v7.56 M581.35 1365.3 v-3.78 M581.35 987.5 v3.78 M604.27 1365.3 v-3.78 M604.27 987.5 v3.78 M627.18 1365.3 v-3.78 M627.18 987.5 v3.78 M650.1 1365.3 v-7.56 M650.1 987.5 v7.56 M673.02 1365.3 v-3.78 M673.02 987.5 v3.78 M695.93 1365.3 v-3.78 M695.93 987.5 v3.78 M718.85 1365.3 v-3.78 M718.85 987.5 v3.78 M741.77 1365.3 v-7.56 M741.77 987.5 v7.56 M764.68 1365.3 v-3.78 M764.68 987.5 v3.78 M787.6 1365.3 v-3.78 M787.6 987.5 v3.78 M100.1 1365.3 h13.75 M787.6 1365.3 h-13.75 M100.1 1357.74 h6.88 M787.6 1357.74 h-6.88 M100.1 1350.19 h6.88 M787.6 1350.19 h-6.88 M100.1 1342.63 h6.88 M787.6 1342.63 h-6.88 M100.1 1335.08 h6.88 M787.6 1335.08 h-6.88 M100.1 1327.52 h6.88 M787.6 1327.52 h-6.88 M100.1 1319.96 h6.88 M787.6 1319.96 h-6.88 M100.1 1312.41 h6.88 M787.6 1312.41 h-6.88 M100.1 1304.85 h6.88 M787.6 1304.85 h-6.88 M100.1 1297.3 h6.88 M787.6 1297.3 h-6.88 M100.1 1289.74 h13.75 M787.6 1289.74 h-13.75 M100.1 1282.18 h6.88 M787.6 1282.18 h-6.88 M100.1 1274.63 h6.88 M787.6 1274.63 h-6.88 M100.1 1267.07 h6.88 M787.6 1267.07 h-6.88 M100.1 1259.52 h6.88 M787.6 1259.52 h-6.88 M100.1 1251.96 h6.88 M787.6 1251.96 h-6.88 M100.1 1244.4 h6.88 M787.6 1244.4 h-6.88 M100.1 1236.85 h6.88 M787.6 1236.85 h-6.88 M100.1 1229.29 h6.88 M787.6 1229.29 h-6.88 M100.1 1221.74 h6.88 M787.6 1221.74 h-6.88 M100.1 1214.18 h13.75 M787.6 1214.18 h-13.75 M100.1 1206.62 h6.88 M787.6 1206.62 h-6.88 M100.1 1199.07 h6.88 M787.6 1199.07 h-6.88 M100.1 1191.51 h6.88 M787.6 1191.51 h-6.88 M100.1 1183.96 h6.88 M787.6 1183.96 h-6.88 M100.1 1176.4 h6.88 M787.6 1176.4 h-6.88 M100.1 1168.84 h6.88 M787.6 1168.84 h-6.88 M100.1 1161.29 h6.88 M787.6 1161.29 h-6.88 M100.1 1153.73 h6.88 M787.6 1153.73 h-6.88 M100.1 1146.18 h6.88 M787.6 1146.18 h-6.88 M100.1 1138.62 h13.75 M787.6 1138.62 h-13.75 M100.1 1131.06 h6.88 M787.6 1131.06 h-6.88 M100.1 1123.51 h6.88 M787.6 1123.51 h-6.88 M100.1 1115.95 h6.88 M787.6 1115.95 h-6.88 M100.1 1108.4 h6.88 M787.6 1108.4 h-6.88 M100.1 1100.84 h6.88 M787.6 1100.84 h-6.88 M100.1 1093.28 h6.88 M787.6 1093.28 h-6.88 M100.1 1085.73 h6.88 M787.6 1085.73 h-6.88 M100.1 1078.17 h6.88 M787.6 1078.17 h-6.88 M100.1 1070.62 h6.88 M787.6 1070.62 h-6.88 M100.1 1063.06 h13.75 M787.6 1063.06 h-13.75 M100.1 1055.5 h6.88 M787.6 1055.5 h-6.88 M100.1 1047.95 h6.88 M787.6 1047.95 h-6.88 M100.1 1040.39 h6.88 M787.6 1040.39 h-6.88 M100.1 1032.84 h6.88 M787.6 1032.84 h-6.88 M100.1 1025.28 h6.88 M787.6 1025.28 h-6.88 M100.1 1017.72 h6.88 M787.6 1017.72 h-6.88 M100.1 1010.17 h6.88 M787.6 1010.17 h-6.88 M100.1 1002.61 h6.88 M787.6 1002.61 h-6.88 M100.1 995.06 h6.88 M787.6 995.06 h-6.88 M100.1 987.5 h13.75 M787.6 987.5 h-13.75" stroke="#000" stroke-width="1.15" fill="none"/>
<rect x="100.1" y="987.5" width="687.5" height="377.8" stroke="#000" stroke-width="1.15" fill="none"/>
<path d="M100.1 1365.3 L787.6 987.5" stroke="#000" stroke-width="3.2" fill="none" stroke-linejoin="round"  clip-path="url(#c3)"/>
<path d="M100.1 1365.3 L103.55 1363.14 L107.01 1360.99 L110.46 1358.85 L113.92 1356.73 L117.37 1354.63 L120.83 1352.54 L124.28 1350.47 L127.74 1348.41 L131.19 1346.36 L134.65 1344.33 L138.1 1342.32 L141.56 1340.32 L145.01 1338.33 L148.47 1336.35 L151.92 1334.39 L155.38 1332.44 L158.83 1330.51 L162.29 1328.59 L165.74 1326.68 L169.2 1324.79 L172.65 1322.9 L176.11 1321.03 L179.56 1319.18 L183.01 1317.33 L186.47 1315.5 L189.92 1313.68 L193.38 1311.87 L196.83 1310.08 L200.29 1308.29 L203.74 1306.52 L207.2 1304.76 L210.65 1303.01 L214.11 1301.27 L217.56 1299.54 L221.02 1297.83 L224.47 1296.12 L227.93 1294.43 L231.38 1292.74 L234.84 1291.07 L238.29 1289.41 L241.75 1287.76 L245.2 1286.11 L248.66 1284.48 L252.11 1282.86 L255.56 1281.25 L259.02 1279.65 L262.47 1278.06 L265.93 1276.48 L269.38 1274.9 L272.84 1273.34 L276.29 1271.79 L279.75 1270.24 L283.2 1268.71 L286.66 1267.18 L290.11 1265.67 L293.57 1264.16 L297.02 1262.66 L300.48 1261.17 L303.93 1259.69 L307.39 1258.22 L310.84 1256.75 L314.3 1255.3 L317.75 1253.85 L321.21 1252.41 L324.66 1250.98 L328.12 1249.56 L331.57 1248.14 L335.02 1246.74 L338.48 1245.34 L341.93 1243.95 L345.39 1242.56 L348.84 1241.19 L352.3 1239.82 L355.75 1238.46 L359.21 1237.1 L362.66 1235.76 L366.12 1234.42 L369.57 1233.09 L373.03 1231.76 L376.48 1230.44 L379.94 1229.13 L383.39 1227.83 L386.85 1226.53 L390.3 1225.24 L393.76 1223.96 L397.21 1222.68 L400.67 1221.41 L404.12 1220.15 L407.57 1218.89 L411.03 1217.64 L414.48 1216.39 L417.94 1215.15 L421.39 1213.92 L424.85 1212.69 L428.3 1211.47 L431.76 1210.26 L435.21 1209.05 L438.67 1207.85 L442.12 1206.65 L445.58 1205.46 L449.03 1204.27 L452.49 1203.09 L455.94 1201.92 L459.4 1200.75 L462.85 1199.58 L466.31 1198.43 L469.76 1197.27 L473.22 1196.12 L476.67 1194.98 L480.13 1193.84 L483.58 1192.71 L487.03 1191.59 L490.49 1190.46 L493.94 1189.35 L497.4 1188.23 L500.85 1187.13 L504.31 1186.02 L507.76 1184.93 L511.22 1183.83 L514.67 1182.74 L518.13 1181.66 L521.58 1180.58 L525.04 1179.51 L528.49 1178.44 L531.95 1177.37 L535.4 1176.31 L538.86 1175.25 L542.31 1174.2 L545.77 1173.15 L549.22 1172.1 L552.68 1171.06 L556.13 1170.03 L559.58 1169 L563.04 1167.97 L566.49 1166.94 L569.95 1165.92 L573.4 1164.91 L576.86 1163.9 L580.31 1162.89 L583.77 1161.88 L587.22 1160.88 L590.68 1159.89 L594.13 1158.89 L597.59 1157.9 L601.04 1156.92 L604.5 1155.93 L607.95 1154.96 L611.41 1153.98 L614.86 1153.01 L618.32 1152.04 L621.77 1151.07 L625.23 1150.11 L628.68 1149.15 L632.14 1148.2 L635.59 1147.25 L639.04 1146.3 L642.5 1145.35 L645.95 1144.41 L649.41 1143.47 L652.86 1142.54 L656.32 1141.6 L659.77 1140.67 L663.23 1139.75 L666.68 1138.82 L670.14 1137.9 L673.59 1136.98 L677.05 1136.07 L680.5 1135.16 L683.96 1134.25 L687.41 1133.34 L690.87 1132.44 L694.32 1131.53 L697.78 1130.64 L701.23 1129.74 L704.69 1128.85 L708.14 1127.96 L711.59 1127.07 L715.05 1126.18 L718.5 1125.3 L721.96 1124.42 L725.41 1123.54 L728.87 1122.67 L732.32 1121.8 L735.78 1120.93 L739.23 1120.06 L742.69 1119.19 L746.14 1118.33 L749.6 1117.47 L753.05 1116.61 L756.51 1115.75 L759.96 1114.9 L763.42 1114.05 L766.87 1113.2 L770.33 1112.35 L773.78 1111.51 L777.24 1110.66 L780.69 1109.82 L784.15 1108.98 L787.6 1108.15" stroke="#9900ff" stroke-width="3.2" fill="none" stroke-linejoin="round" stroke-dasharray="2.9 6.485" stroke-dashoffset="0" clip-path="url(#c3)"/>
<path d="M100.1 1365.3 L103.55 1362.61 L107.01 1359.98 L110.46 1357.4 L113.92 1354.87 L117.37 1352.39 L120.83 1349.97 L124.28 1347.59 L127.74 1345.27 L131.19 1342.98 L134.65 1340.75 L138.1 1338.55 L141.56 1336.4 L145.01 1334.29 L148.47 1332.22 L151.92 1330.19 L155.38 1328.2 L158.83 1326.24 L162.29 1324.32 L165.74 1322.44 L169.2 1320.59 L172.65 1318.77 L176.11 1316.99 L179.56 1315.23 L183.01 1313.51 L186.47 1311.82 L189.92 1310.15 L193.38 1308.51 L196.83 1306.9 L200.29 1305.32 L203.74 1303.77 L207.2 1302.23 L210.65 1300.73 L214.11 1299.24 L217.56 1297.78 L221.02 1296.35 L224.47 1294.93 L227.93 1293.54 L231.38 1292.16 L234.84 1290.81 L238.29 1289.47 L241.75 1288.16 L245.2 1286.86 L248.66 1285.59 L252.11 1284.33 L255.56 1283.08 L259.02 1281.85 L262.47 1280.64 L265.93 1279.45 L269.38 1278.27 L272.84 1277.1 L276.29 1275.95 L279.75 1274.82 L283.2 1273.7 L286.66 1272.59 L290.11 1271.49 L293.57 1270.41 L297.02 1269.34 L300.48 1268.28 L303.93 1267.23 L307.39 1266.19 L310.84 1265.17 L314.3 1264.15 L317.75 1263.15 L321.21 1262.15 L324.66 1261.17 L328.12 1260.19 L331.57 1259.23 L335.02 1258.27 L338.48 1257.32 L341.93 1256.38 L345.39 1255.45 L348.84 1254.53 L352.3 1253.62 L355.75 1252.71 L359.21 1251.81 L362.66 1250.92 L366.12 1250.03 L369.57 1249.15 L373.03 1248.28 L376.48 1247.42 L379.94 1246.56 L383.39 1245.71 L386.85 1244.86 L390.3 1244.02 L393.76 1243.18 L397.21 1242.35 L400.67 1241.53 L404.12 1240.71 L407.57 1239.89 L411.03 1239.09 L414.48 1238.28 L417.94 1237.48 L421.39 1236.69 L424.85 1235.9 L428.3 1235.11 L431.76 1234.33 L435.21 1233.55 L438.67 1232.77 L442.12 1232 L445.58 1231.24 L449.03 1230.47 L452.49 1229.72 L455.94 1228.96 L459.4 1228.21 L462.85 1227.46 L466.31 1226.71 L469.76 1225.97 L473.22 1225.23 L476.67 1224.49 L480.13 1223.76 L483.58 1223.02 L487.03 1222.3 L490.49 1221.57 L493.94 1220.85 L497.4 1220.12 L500.85 1219.41 L504.31 1218.69 L507.76 1217.97 L511.22 1217.26 L514.67 1216.55 L518.13 1215.85 L521.58 1215.14 L525.04 1214.44 L528.49 1213.73 L531.95 1213.03 L535.4 1212.34 L538.86 1211.64 L542.31 1210.94 L545.77 1210.25 L549.22 1209.56 L552.68 1208.87 L556.13 1208.18 L559.58 1207.5 L563.04 1206.81 L566.49 1206.13 L569.95 1205.44 L573.4 1204.76 L576.86 1204.08 L580.31 1203.41 L583.77 1202.73 L587.22 1202.05 L590.68 1201.38 L594.13 1200.7 L597.59 1200.03 L601.04 1199.36 L604.5 1198.69 L607.95 1198.02 L611.41 1197.35 L614.86 1196.68 L618.32 1196.02 L621.77 1195.35 L625.23 1194.69 L628.68 1194.02 L632.14 1193.36 L635.59 1192.7 L639.04 1192.04 L642.5 1191.38 L645.95 1190.72 L649.41 1190.06 L652.86 1189.4 L656.32 1188.74 L659.77 1188.08 L663.23 1187.43 L666.68 1186.77 L670.14 1186.12 L673.59 1185.46 L677.05 1184.81 L680.5 1184.16 L683.96 1183.5 L687.41 1182.85 L690.87 1182.2 L694.32 1181.55 L697.78 1180.9 L701.23 1180.25 L704.69 1179.6 L708.14 1178.95 L711.59 1178.3 L715.05 1177.65 L718.5 1177 L721.96 1176.36 L725.41 1175.71 L728.87 1175.06 L732.32 1174.42 L735.78 1173.77 L739.23 1173.12 L742.69 1172.48 L746.14 1171.83 L749.6 1171.19 L753.05 1170.54 L756.51 1169.9 L759.96 1169.26 L763.42 1168.61 L766.87 1167.97 L770.33 1167.33 L773.78 1166.69 L777.24 1166.04 L780.69 1165.4 L784.15 1164.76 L787.6 1164.12" stroke="#f81078" stroke-width="3.2" fill="none" stroke-linejoin="round" stroke-dasharray="13.5 13.3" stroke-dashoffset="0" clip-path="url(#c3)"/>
<path d="M100.1 1365.3 L103.55 1361.98 L107.01 1358.78 L110.46 1355.68 L113.92 1352.69 L117.37 1349.8 L120.83 1347.01 L124.28 1344.31 L127.74 1341.71 L131.19 1339.18 L134.65 1336.74 L138.1 1334.38 L141.56 1332.1 L145.01 1329.89 L148.47 1327.75 L151.92 1325.68 L155.38 1323.67 L158.83 1321.72 L162.29 1319.84 L165.74 1318.01 L169.2 1316.23 L172.65 1314.51 L176.11 1312.84 L179.56 1311.22 L183.01 1309.65 L186.47 1308.12 L189.92 1306.63 L193.38 1305.19 L196.83 1303.79 L200.29 1302.42 L203.74 1301.09 L207.2 1299.8 L210.65 1298.54 L214.11 1297.31 L217.56 1296.12 L221.02 1294.95 L224.47 1293.82 L227.93 1292.71 L231.38 1291.62 L234.84 1290.57 L238.29 1289.54 L241.75 1288.53 L245.2 1287.54 L248.66 1286.58 L252.11 1285.63 L255.56 1284.71 L259.02 1283.81 L262.47 1282.92 L265.93 1282.05 L269.38 1281.2 L272.84 1280.37 L276.29 1279.55 L279.75 1278.75 L283.2 1277.96 L286.66 1277.19 L290.11 1276.42 L293.57 1275.68 L297.02 1274.94 L300.48 1274.22 L303.93 1273.5 L307.39 1272.8 L310.84 1272.11 L314.3 1271.43 L317.75 1270.76 L321.21 1270.09 L324.66 1269.44 L328.12 1268.8 L331.57 1268.16 L335.02 1267.53 L338.48 1266.91 L341.93 1266.3 L345.39 1265.69 L348.84 1265.09 L352.3 1264.5 L355.75 1263.91 L359.21 1263.33 L362.66 1262.75 L366.12 1262.18 L369.57 1261.62 L373.03 1261.06 L376.48 1260.5 L379.94 1259.95 L383.39 1259.41 L386.85 1258.87 L390.3 1258.33 L393.76 1257.8 L397.21 1257.27 L400.67 1256.74 L404.12 1256.22 L407.57 1255.7 L411.03 1255.19 L414.48 1254.67 L417.94 1254.16 L421.39 1253.66 L424.85 1253.15 L428.3 1252.65 L431.76 1252.15 L435.21 1251.66 L438.67 1251.16 L442.12 1250.67 L445.58 1250.18 L449.03 1249.7 L452.49 1249.21 L455.94 1248.73 L459.4 1248.25 L462.85 1247.77 L466.31 1247.29 L469.76 1246.81 L473.22 1246.34 L476.67 1245.86 L480.13 1245.39 L483.58 1244.92 L487.03 1244.45 L490.49 1243.99 L493.94 1243.52 L497.4 1243.05 L500.85 1242.59 L504.31 1242.13 L507.76 1241.66 L511.22 1241.2 L514.67 1240.74 L518.13 1240.28 L521.58 1239.83 L525.04 1239.37 L528.49 1238.91 L531.95 1238.46 L535.4 1238 L538.86 1237.55 L542.31 1237.09 L545.77 1236.64 L549.22 1236.19 L552.68 1235.74 L556.13 1235.28 L559.58 1234.83 L563.04 1234.38 L566.49 1233.93 L569.95 1233.49 L573.4 1233.04 L576.86 1232.59 L580.31 1232.14 L583.77 1231.69 L587.22 1231.25 L590.68 1230.8 L594.13 1230.36 L597.59 1229.91 L601.04 1229.47 L604.5 1229.02 L607.95 1228.58 L611.41 1228.13 L614.86 1227.69 L618.32 1227.24 L621.77 1226.8 L625.23 1226.36 L628.68 1225.92 L632.14 1225.47 L635.59 1225.03 L639.04 1224.59 L642.5 1224.15 L645.95 1223.7 L649.41 1223.26 L652.86 1222.82 L656.32 1222.38 L659.77 1221.94 L663.23 1221.5 L666.68 1221.06 L670.14 1220.62 L673.59 1220.18 L677.05 1219.74 L680.5 1219.3 L683.96 1218.86 L687.41 1218.42 L690.87 1217.98 L694.32 1217.54 L697.78 1217.1 L701.23 1216.66 L704.69 1216.22 L708.14 1215.78 L711.59 1215.34 L715.05 1214.9 L718.5 1214.46 L721.96 1214.03 L725.41 1213.59 L728.87 1213.15 L732.32 1212.71 L735.78 1212.27 L739.23 1211.83 L742.69 1211.4 L746.14 1210.96 L749.6 1210.52 L753.05 1210.08 L756.51 1209.64 L759.96 1209.2 L763.42 1208.77 L766.87 1208.33 L770.33 1207.89 L773.78 1207.45 L777.24 1207.02 L780.69 1206.58 L784.15 1206.14 L787.6 1205.7" stroke="#ff9000" stroke-width="3.2" fill="none" stroke-linejoin="round" stroke-dasharray="13.6 6.6 3.4 6.57" stroke-dashoffset="0" clip-path="url(#c3)"/>
<text transform="translate(89.81 1411.9) scale(1 1.07)" font-size="37" fill="#000" stroke="#000" stroke-width="0.35" style="white-space:pre">0</text>
<text transform="translate(181.48 1411.9) scale(1 1.07)" font-size="37" fill="#000" stroke="#000" stroke-width="0.35" style="white-space:pre">2</text>
<text transform="translate(273.15 1411.9) scale(1 1.07)" font-size="37" fill="#000" stroke="#000" stroke-width="0.35" style="white-space:pre">4</text>
<text transform="translate(364.81 1411.9) scale(1 1.07)" font-size="37" fill="#000" stroke="#000" stroke-width="0.35" style="white-space:pre">6</text>
<text transform="translate(456.48 1411.9) scale(1 1.07)" font-size="37" fill="#000" stroke="#000" stroke-width="0.35" style="white-space:pre">8</text>
<path transform="translate(537.86 1411.9)" d="M13.28 0 L13.28 -26.86 L10.62 -26.86 Q9.69 -22.57 3.55 -21.53 L3.55 -18.94 L9.21 -18.94 L9.21 0Z" fill="#000"/>
<text transform="translate(558.43 1411.9) scale(1 1.07)" font-size="37" fill="#000" stroke="#000" stroke-width="0.35" style="white-space:pre">0</text>
<path transform="translate(629.53 1411.9)" d="M13.28 0 L13.28 -26.86 L10.62 -26.86 Q9.69 -22.57 3.55 -21.53 L3.55 -18.94 L9.21 -18.94 L9.21 0Z" fill="#000"/>
<text transform="translate(650.1 1411.9) scale(1 1.07)" font-size="37" fill="#000" stroke="#000" stroke-width="0.35" style="white-space:pre">2</text>
<path transform="translate(721.19 1411.9)" d="M13.28 0 L13.28 -26.86 L10.62 -26.86 Q9.69 -22.57 3.55 -21.53 L3.55 -18.94 L9.21 -18.94 L9.21 0Z" fill="#000"/>
<text transform="translate(741.77 1411.9) scale(1 1.07)" font-size="37" fill="#000" stroke="#000" stroke-width="0.35" style="white-space:pre">4</text>
<text transform="translate(69.73 1365.3) scale(1 1.07)" font-size="37" fill="#000" stroke="#000" stroke-width="0.35" style="white-space:pre">0</text>
<path transform="translate(69.73 1302.04)" d="M13.28 0 L13.28 -26.86 L10.62 -26.86 Q9.69 -22.57 3.55 -21.53 L3.55 -18.94 L9.21 -18.94 L9.21 0Z" fill="#000"/>
<text transform="translate(69.73 1226.48) scale(1 1.07)" font-size="37" fill="#000" stroke="#000" stroke-width="0.35" style="white-space:pre">2</text>
<text transform="translate(69.73 1150.92) scale(1 1.07)" font-size="37" fill="#000" stroke="#000" stroke-width="0.35" style="white-space:pre">3</text>
<text transform="translate(69.73 1075.36) scale(1 1.07)" font-size="37" fill="#000" stroke="#000" stroke-width="0.35" style="white-space:pre">4</text>
<text transform="translate(69.73 1009.7) scale(1 1.07)" font-size="37" fill="#000" stroke="#000" stroke-width="0.35" style="white-space:pre">5</text>
<text transform="translate(443.2 1450.7) scale(1 1.02)" font-size="37" text-anchor="middle" fill="#000" stroke="#000" stroke-width="0.35" >Structure Function n</text>
<text transform="translate(39.9 1328.1) rotate(-90) scale(1 1.02)" font-size="37.4" stroke="#000" stroke-width="0.35">Velocity Scaling</text>
<text transform="translate(39.9 1053.6) rotate(-90) scale(1.24 1.1)" font-size="37" font-family="Liberation Serif, serif" stroke="#000" stroke-width="0.4">ζ</text>
<text transform="translate(48.7 1035.6) rotate(-90) scale(1 1.02)" font-size="24" stroke="#000" stroke-width="0.3">n</text>
<path d="M125.2 1019.1 H241.4" stroke="#000" stroke-width="5.5" />
<text transform="translate(259.6 1026.4) scale(1 0.95)" font-size="33.5" fill="#000" font-family="Liberation Serif, serif" stroke="#000" stroke-width="0.45">β</text>
<rect x="277.8" y="1015.3" width="16" height="2.2" fill="#000"/>
<rect x="277.8" y="1020.8" width="16" height="2.2" fill="#000"/>
<path transform="translate(294.7 1026.4)" d="M11.7 0 L11.7 -23.67 L9.36 -23.67 Q8.54 -19.89 3.13 -18.97 L3.13 -16.69 L8.12 -16.69 L8.12 0Z" fill="#000"/>
<path d="M125.2 1049.3 H241.4" stroke="#9900ff" stroke-width="5.5" stroke-dasharray="2.9 6.485"/>
<text transform="translate(259.6 1056.2) scale(1 0.95)" font-size="33.5" fill="#9900ff" font-family="Liberation Serif, serif" stroke="#9900ff" stroke-width="0.45">β</text>
<rect x="277.8" y="1045.1" width="16" height="2.2" fill="#9900ff"/>
<rect x="277.8" y="1050.6" width="16" height="2.2" fill="#9900ff"/>
<text transform="translate(294.7 1056.2) scale(1 1.03)" font-size="32.6" fill="#9900ff" stroke="#9900ff" stroke-width="0.15" style="white-space:pre">2/3</text>
<path d="M125.2 1079.6 H241.4" stroke="#f81078" stroke-width="5.5" stroke-dasharray="13.5 13.3"/>
<text transform="translate(259.6 1086.3) scale(1 0.95)" font-size="33.5" fill="#f81078" font-family="Liberation Serif, serif" stroke="#f81078" stroke-width="0.45">β</text>
<rect x="277.8" y="1075.2" width="16" height="2.2" fill="#f81078"/>
<rect x="277.8" y="1080.7" width="16" height="2.2" fill="#f81078"/>
<path transform="translate(294.7 1086.3)" d="M11.7 0 L11.7 -23.67 L9.36 -23.67 Q8.54 -19.89 3.13 -18.97 L3.13 -16.69 L8.12 -16.69 L8.12 0Z" fill="#f81078"/>
<text transform="translate(312.83 1086.3) scale(1 1.03)" font-size="32.6" fill="#f81078" stroke="#f81078" stroke-width="0.15" style="white-space:pre">/3</text>
<path d="M125.2 1109.8 H241.4" stroke="#ff9000" stroke-width="5.5" stroke-dasharray="13.6 6.6 3.4 6.57"/>
<text transform="translate(259.6 1116.1) scale(1 0.95)" font-size="33.5" fill="#ff9000" font-family="Liberation Serif, serif" stroke="#ff9000" stroke-width="0.45">β</text>
<rect x="277.8" y="1105" width="16" height="2.2" fill="#ff9000"/>
<rect x="277.8" y="1110.5" width="16" height="2.2" fill="#ff9000"/>
<path transform="translate(294.7 1116.1)" d="M11.7 0 L11.7 -23.67 L9.36 -23.67 Q8.54 -19.89 3.13 -18.97 L3.13 -16.69 L8.12 -16.69 L8.12 0Z" fill="#ff9000"/>
<text transform="translate(312.83 1116.1) scale(1 1.03)" font-size="32.6" fill="#ff9000" stroke="#ff9000" stroke-width="0.15" style="white-space:pre">/5</text>
</svg>
</body></html>
